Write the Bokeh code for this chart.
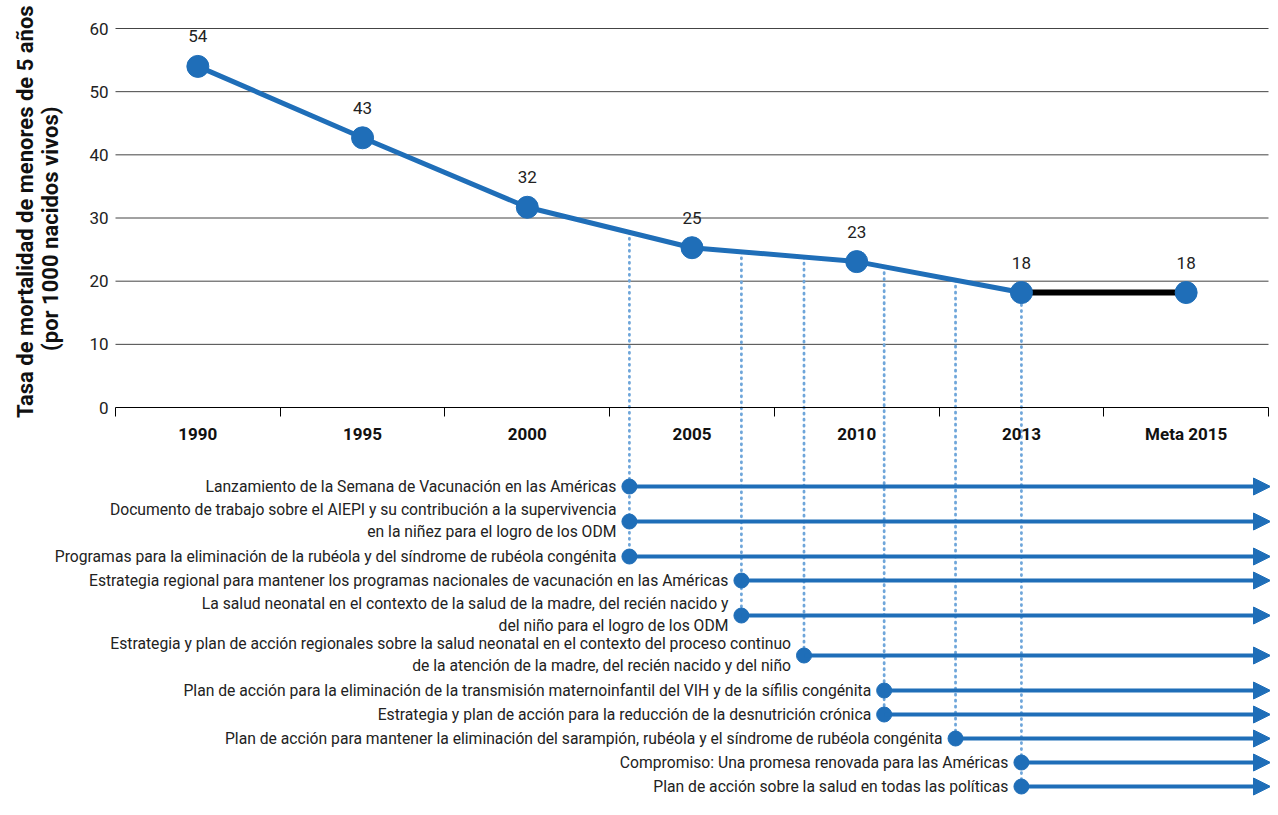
import numpy as np
from bokeh.plotting import figure
from bokeh.models import ColumnDataSource, FixedTicker, Arrow, NormalHead, Label, Range1d
from bokeh.core.properties import value
from bokeh.embed import file_html
from bokeh.resources import INLINE

# ---------------- data ----------------
categories = ["1990", "1995", "2000", "2005", "2010", "2013", "Meta 2015"]
rates = [54.0, 42.7, 31.7, 25.3, 23.1, 18.2, 18.2]
rate_labels = ["54", "43", "32", "25", "23", "18", "18"]
y_ticks = [0, 10, 20, 30, 40, 50, 60]
cat_years = [1990, 1995, 2000, 2005, 2010, 2013]

event_labels = [
    "Lanzamiento de la Semana de Vacunación en las Américas",
    "Documento de trabajo sobre el AIEPI y su contribución a la supervivencia\nen la niñez para el logro de los ODM",
    "Programas para la eliminación de la rubéola y del síndrome de rubéola congénita",
    "Estrategia regional para mantener los programas nacionales de vacunación en las Américas",
    "La salud neonatal en el contexto de la salud de la madre, del recién nacido y\ndel niño para el logro de los ODM",
    "Estrategia y plan de acción regionales sobre la salud neonatal en el contexto del proceso continuo\nde la atención de la madre, del recién nacido y del niño",
    "Plan de acción para la eliminación de la transmisión maternoinfantil del VIH y de la sífilis congénita",
    "Estrategia y plan de acción para la reducción de la desnutrición crónica",
    "Plan de acción para mantener la eliminación del sarampión, rubéola y el síndrome de rubéola congénita",
    "Compromiso: Una promesa renovada para las Américas",
    "Plan de acción sobre la salud en todas las políticas",
]
event_years = [2003.1, 2003.1, 2003.1, 2006.5, 2006.5, 2008.4, 2010.5, 2010.5, 2011.8, 2013.0, 2013.0]

# ---------------- layout helpers ----------------
BLUE = "#1F6EB8"
DOT = "#6FA6DA"
FONT = "Roboto"
W, H = 1270, 799
PXU = 6.317                      # pixels per rate unit
XU = (1268 - 115) / 7            # pixels per category
x_start = -0.5 - 115 / XU
x_end = x_start + W / XU
y_end = 60 + 28 / PXU
y_start = y_end - H / PXU

cat_x = np.arange(len(categories))
ev_x = np.interp(event_years, cat_years, np.arange(len(cat_years)))

# row positions (pixels below the zero line -> data units)
n_lines = [lab.count("\n") + 1 for lab in event_labels]
row_px = [79.0]
for a, b in zip(n_lines[:-1], n_lines[1:]):
    if a == 1 and b == 1:
        g = 24.0
    elif a == 2 and b == 2:
        g = 40.0
    else:
        g = 35.0
    row_px.append(row_px[-1] + g)
row_y = [-r / PXU for r in row_px]
text_dy = [-1.5 if n > 1 else 0.0 for n in n_lines]

p = figure(width=W, height=H, output_backend="svg", toolbar_location=None,
           x_range=Range1d(x_start, x_end), y_range=Range1d(y_start, y_end),
           min_border=0)
p.outline_line_color = None
p.xgrid.visible = False
p.ygrid.visible = False

# gridlines (only over the plot area)
p.segment(x0=[-0.5] * 6, x1=[6.5] * 6, y0=y_ticks[1:], y1=y_ticks[1:],
          line_color="#444444", line_width=1)

# axes
xa = p.xaxis[0]
xa.fixed_location = 0
xa.bounds = (-0.5, 6.5)
xa.ticker = FixedTicker(ticks=list(cat_x), minor_ticks=[i - 0.5 for i in range(len(categories) + 1)])
xa.major_label_overrides = {int(i): c for i, c in zip(cat_x, categories)}
xa.major_tick_out = 0
xa.major_tick_in = 0
xa.minor_tick_out = 9
xa.minor_tick_in = 0
xa.minor_tick_line_color = "black"
xa.axis_line_color = "black"
xa.axis_line_width = 1.2
xa.major_label_text_font = FONT
xa.major_label_text_font_style = "bold"
xa.major_label_text_font_size = "17px"
xa.major_label_text_color = "#111111"
xa.major_label_standoff = 7

ya = p.yaxis[0]
ya.fixed_location = -0.5
ya.bounds = (0, 60)
ya.ticker = FixedTicker(ticks=y_ticks)
ya.axis_line_color = None
ya.major_tick_out = 0
ya.major_tick_in = 0
ya.minor_tick_line_color = None
ya.major_label_text_font = FONT
ya.major_label_text_font_size = "17px"
ya.major_label_text_color = "#222222"
ya.major_label_standoff = 7

# axis title
p.add_layout(Label(x=x_start + 25 / XU, y=31.0, text="Tasa de mortalidad de menores de 5 años",
                   angle=np.pi / 2, text_align="center", text_baseline="middle", text_font=FONT,
                   text_font_style="bold", text_font_size="22px", text_color="#111111"))
p.add_layout(Label(x=x_start + 50 / XU, y=28.3, text="(por 1000 nacidos vivos)",
                   angle=np.pi / 2, text_align="center", text_baseline="middle", text_font=FONT,
                   text_font_style="bold", text_font_size="22px", text_color="#111111"))

# dotted connectors from the curve down to the last event row at that position
uniq = sorted(set(ev_x.round(6)))
dx0, dy0, dy1 = [], [], []
for ux in uniq:
    idx = [i for i in range(len(ev_x)) if abs(ev_x[i] - ux) < 1e-6]
    dx0.append(ux)
    dy0.append(float(np.interp(ux, cat_x, rates)))
    dy1.append(min(row_y[i] for i in idx))
p.segment(x0=dx0, x1=dx0, y0=dy0, y1=dy1, line_color=DOT, line_width=2.8,
          line_dash="1 5", line_cap="round")

# main series
p.line(x=cat_x[:6], y=rates[:6], line_color=BLUE, line_width=5)
p.line(x=cat_x[5:], y=rates[5:], line_color="black", line_width=6)
p.scatter(x=cat_x, y=rates, size=22, fill_color=BLUE, line_color=BLUE)
p.text(x=cat_x, y=rates, text=rate_labels, y_offset=-24, text_align="center",
       text_baseline="bottom", text_font=value(FONT), text_font_size="17px", text_color="#222222")

# event arrows
tip_x = 6.5 + 2 / XU
asrc = ColumnDataSource(dict(x0=ev_x, y0=row_y, x1=[tip_x] * len(ev_x), y1=row_y))
p.add_layout(Arrow(source=asrc, x_start="x0", y_start="y0", x_end="x1", y_end="y1",
                   line_color=BLUE, line_width=4,
                   end=NormalHead(size=17, fill_color=BLUE, line_color=BLUE, line_width=1)))
p.scatter(x=ev_x, y=row_y, size=15, fill_color=BLUE, line_color=BLUE)
tsrc = ColumnDataSource(dict(x=ev_x, y=row_y, t=event_labels, dy=text_dy))
p.text(x="x", y="y", text="t", y_offset="dy", source=tsrc, x_offset=-13, text_align="right",
       text_baseline="middle", text_font=value(FONT), text_font_size="15.7px",
       text_color="#222222", text_line_height=1.16)

open("out.html", "w").write(file_html(p, INLINE))
